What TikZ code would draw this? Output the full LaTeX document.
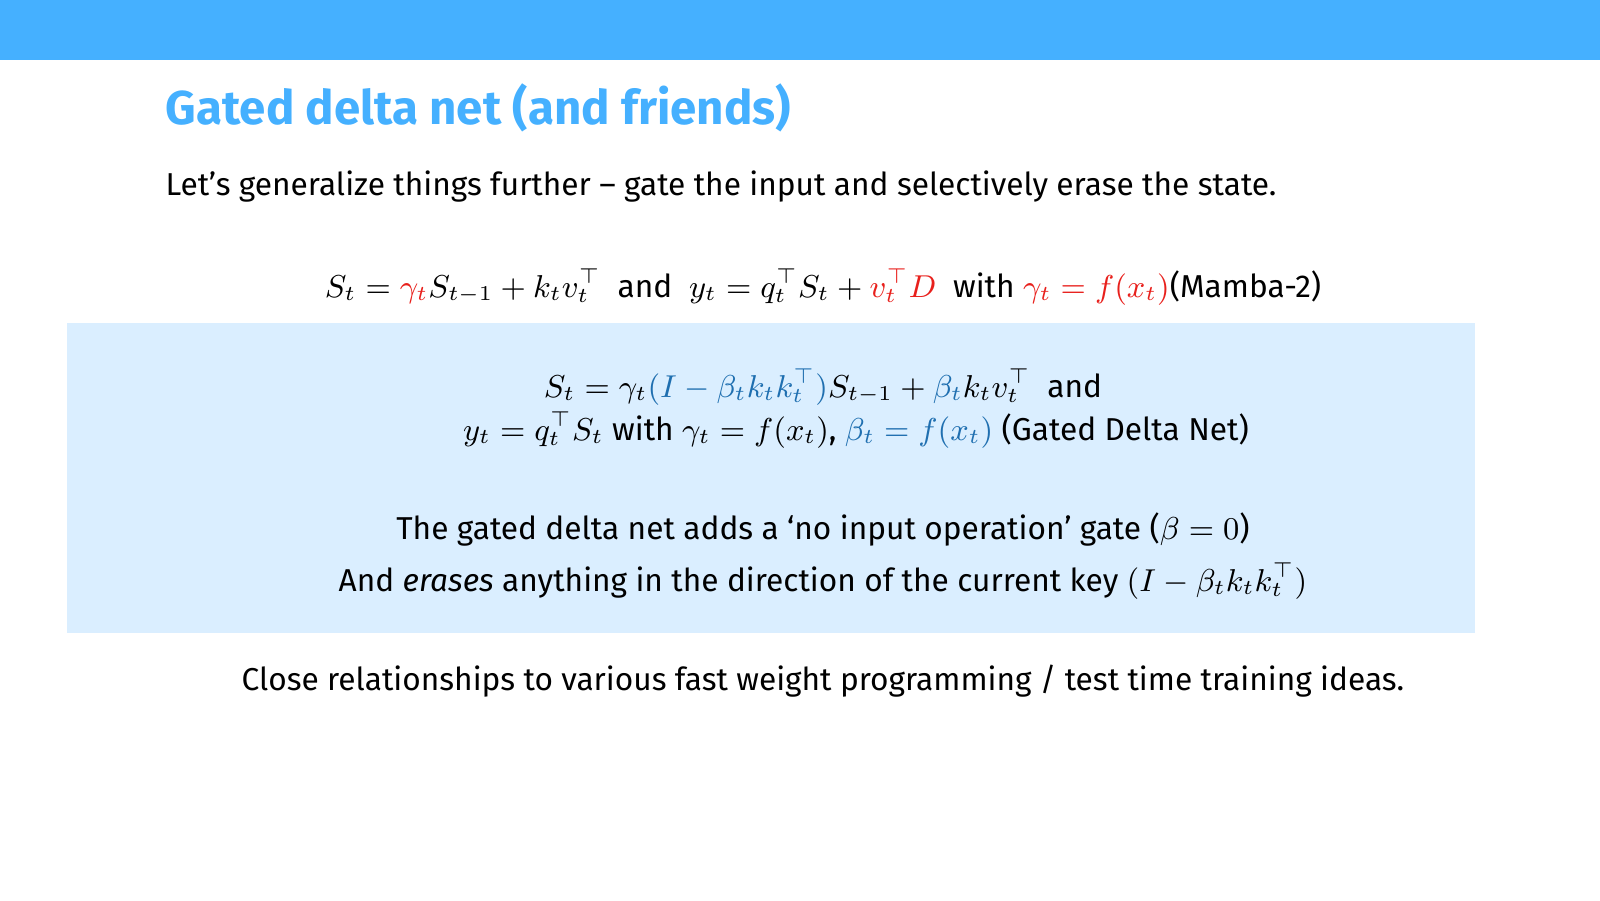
\documentclass[tikz,border=0pt]{standalone}
\usepackage{fontspec}
\setmainfont{Fira Sans}
\usetikzlibrary{positioning}
\definecolor{barblue}{HTML}{45B0FF}
\definecolor{boxblue}{HTML}{DAEEFF}
\definecolor{gatered}{HTML}{E8201C}
\definecolor{deltablue}{HTML}{1F6FB0}
\newcommand{\gr}[1]{\textcolor{gatered}{#1}}
\newcommand{\db}[1]{\textcolor{deltablue}{#1}}
\begin{document}
\begin{tikzpicture}[x=0.01cm, y=0.01cm,
  body/.style = {inner sep=0pt, font=\fontsize{9}{11}\selectfont},
  title/.style = {inner sep=0pt, font=\fontsize{13.5}{16}\selectfont\bfseries, text=barblue}]
\useasboundingbox (0,0) rectangle (1600,901);
\fill[barblue] (0,841) rectangle (1600,901);
\fill[boxblue] (67,268) rectangle (1475,578);

\node[title, anchor=west] (head) at (165,793) {Gated delta net (and friends)};
\node[body, anchor=west] (intro) at (165,714) {Let’s generalize things further – gate the input and selectively erase the state.};

\node[body] (mamba) at (823,614) {$S_t = \gr{\gamma_t} S_{t-1} + k_t v_t^\top$ \ and \ $y_t = q_t^\top S_t + \gr{v_t^\top D}$ \ with $\gr{\gamma_t = f(x_t)}$(Mamba-2)};

\node[body] (gdn1) at (823,514) {$S_t = \gamma_t \db{(I - \beta_t k_t k_t^\top)} S_{t-1} + \db{\beta_t} k_t v_t^\top$ \ and};
\node[body] (gdn2) at (856,471) {$y_t = q_t^\top S_t$ with $\gamma_t = f(x_t)$, $\db{\beta_t = f(x_t)}$ (Gated Delta Net)};

\node[body] (note1) at (823,371) {The gated delta net adds a ‘no input operation’ gate ($\beta = 0$)};
\node[body] (note2) at (823,320) {And \textit{erases} anything in the direction of the current key $(I - \beta_t k_t k_t^\top)$};

\node[body] (close) at (823,220) {Close relationships to various fast weight programming / test time training ideas.};
\end{tikzpicture}
\end{document}
